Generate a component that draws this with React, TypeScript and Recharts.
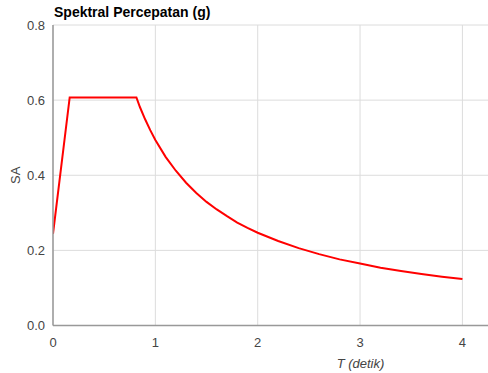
import React from "react";
import { LineChart, Line, XAxis, YAxis, CartesianGrid } from "recharts";

const periods = [0, 0.163, 0.815, 0.85, 0.9, 0.95, 1.0, 1.1, 1.2, 1.3, 1.4, 1.5, 1.6, 1.7, 1.8, 1.9, 2.0, 2.2, 2.4, 2.6, 2.8, 3.0, 3.2, 3.4, 3.6, 3.8, 4.0];
const saValues = [0.244, 0.607, 0.607, 0.581, 0.549, 0.52, 0.494, 0.449, 0.412, 0.38, 0.353, 0.329, 0.309, 0.291, 0.274, 0.26, 0.247, 0.225, 0.206, 0.19, 0.176, 0.165, 0.154, 0.145, 0.137, 0.13, 0.124];
const xTicks = [0, 1, 2, 3, 4];
const yTicks = [0, 0.2, 0.4, 0.6, 0.8];

const data = periods.map((t, i) => ({ t, sa: saValues[i] }));

const FONT = "'Liberation Sans', Arial, sans-serif";

export default function App() {
  return (
    <div style={{ position: "absolute", left: 0, top: 0, width: 488, height: 373, fontFamily: FONT }}>
      <div
        style={{
          position: "absolute",
          left: 54,
          top: 5,
          fontSize: 14,
          lineHeight: "14px",
          fontWeight: "bold",
          color: "#000",
          whiteSpace: "nowrap",
        }}
      >
        Spektral Percepatan (g)
      </div>
      <LineChart width={488} height={373} data={data} margin={{ top: 25, right: 0, left: 0, bottom: 0 }}>
        <CartesianGrid stroke="#dcdcdc" strokeWidth={1} verticalValues={xTicks} horizontalValues={yTicks} />
        <XAxis
          dataKey="t"
          type="number"
          domain={[0, 4.25]}
          ticks={xTicks}
          allowDataOverflow
          height={47.5}
          tickLine={false}
          tickMargin={6}
          axisLine={{ stroke: "#999", strokeWidth: 1.5 }}
          tick={{ fill: "#444", fontSize: 13, fontFamily: FONT }}
          label={{
            value: "T (detik)",
            position: "insideBottom",
            offset: 5,
            dx: 90,
            style: { fill: "#444", fontSize: 13, fontStyle: "italic", fontFamily: FONT },
          }}
        />
        <YAxis
          type="number"
          domain={[0, 0.8]}
          ticks={yTicks}
          width={53}
          tickLine={false}
          axisLine={{ stroke: "#999", strokeWidth: 1.5 }}
          tickFormatter={(v: number) => v.toFixed(1)}
          tick={{ fill: "#444", fontSize: 13, fontFamily: FONT }}
          label={{
            value: "SA",
            angle: -90,
            position: "insideLeft",
            offset: 15,
            style: { fill: "#444", fontSize: 13, textAnchor: "middle", fontFamily: FONT },
          }}
        />
        <Line
          type="linear"
          dataKey="sa"
          stroke="#ff0000"
          strokeWidth={2}
          dot={false}
          isAnimationActive={false}
        />
      </LineChart>
    </div>
  );
}
